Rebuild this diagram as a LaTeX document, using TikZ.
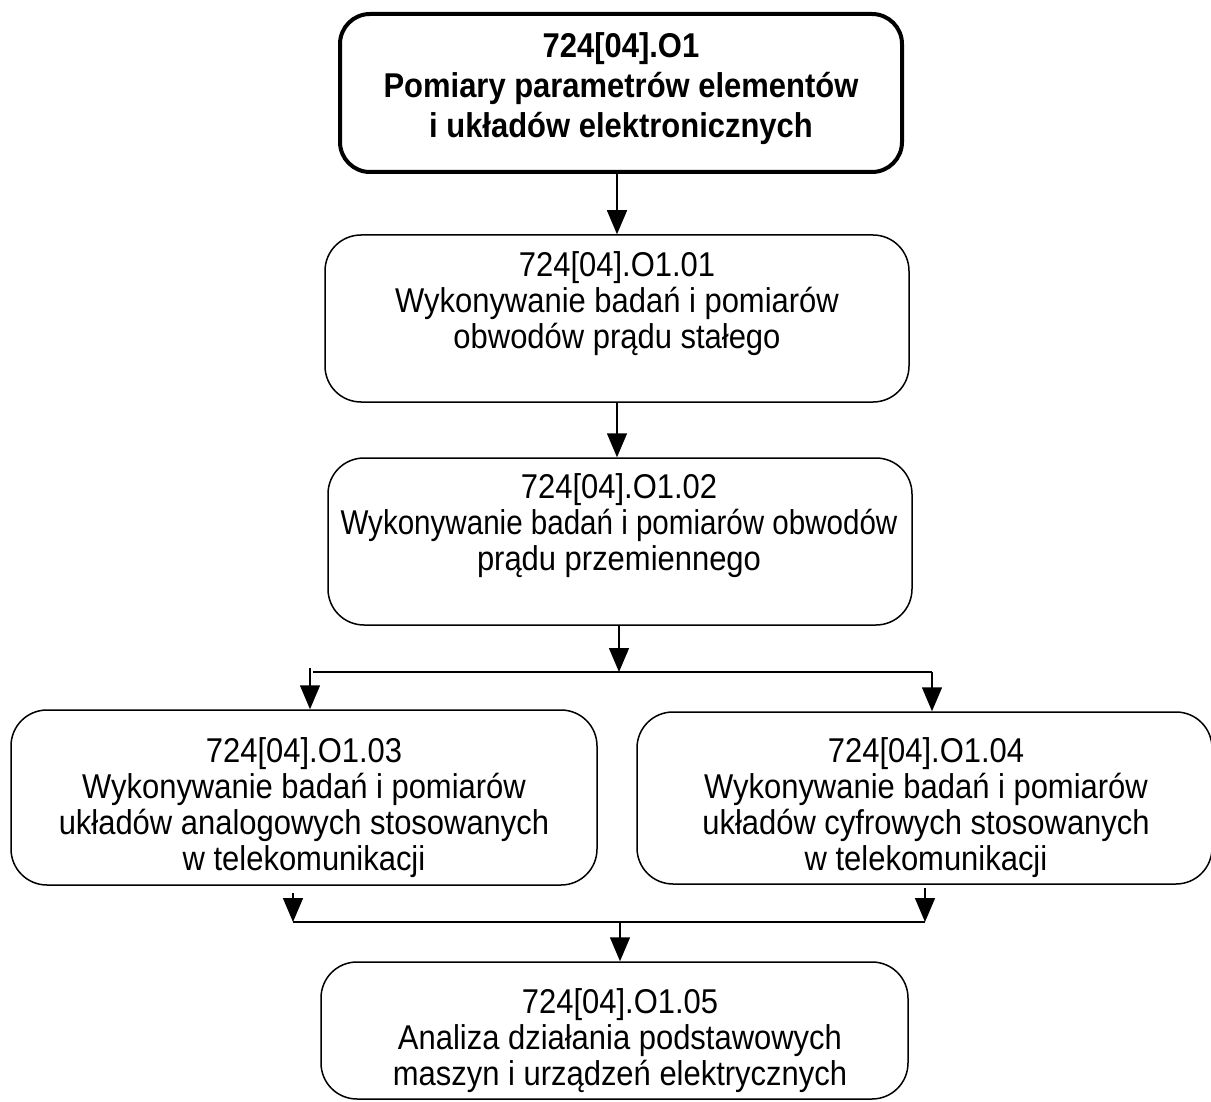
\documentclass[tikz,border=0pt]{standalone}
\usepackage{graphicx}
\usepackage{fontspec}
\setmainfont{Liberation Sans}[FakeStretch=0.9]
\usetikzlibrary{arrows.meta}
\begin{document}
\begin{tikzpicture}[x=1pt,y=-1pt,
  box/.style={draw, rounded corners=36pt, line width=1.5pt, inner sep=0pt},
  topbox/.style={draw, rounded corners=30pt, line width=4pt, inner sep=0pt},
  txt/.style={align=center, inner sep=0pt, font=\fontsize{34.4}{36}\selectfont},
  toptxt/.style={align=center, inner sep=0pt, font=\fontsize{34.4}{40}\selectfont\bfseries},
  arr/.style={line width=1.5pt, -{Triangle[width=20pt,length=24pt]}},
  ln/.style={line width=1.5pt}]
\useasboundingbox (0,0) rectangle (1211,1102);
% boxes
\node[topbox, minimum width=562pt, minimum height=158pt] (b1) at (621,93) {};
\node[box, minimum width=584pt, minimum height=167pt] (b2) at (617,318.5) {};
\node[box, minimum width=584pt, minimum height=167pt] (b3) at (620,541.5) {};
\node[box, minimum width=586pt, minimum height=175pt] (b4) at (304,797.5) {};
\node[box, minimum width=575pt, minimum height=172pt] (b5) at (924.5,798) {};
\node[box, minimum width=587pt, minimum height=137pt] (b6) at (614.5,1030.5) {};
% texts
\node[toptxt] (t1) at (621,89) {724[04].O1\\Pomiary parametrów elementów\\i układów elektronicznych};
\node[txt] (t2) at (617,304) {724[04].O1.01\\Wykonywanie badań i pomiarów\\obwodów prądu stałego};
\node[txt] (t3) at (619,526) {724[04].O1.02\\\scalebox{0.955}[1]{Wykonywanie badań i pomiarów obwodów}\\prądu przemiennego};
\node[txt] (t4) at (304,808) {724[04].O1.03\\Wykonywanie badań i pomiarów\\układów analogowych stosowanych\\w telekomunikacji};
\node[txt] (t5) at (926,808) {724[04].O1.04\\Wykonywanie badań i pomiarów\\układów cyfrowych stosowanych\\w telekomunikacji};
\node[txt] (t6) at (620,1041) {724[04].O1.05\\Analiza działania podstawowych\\maszyn i urządzeń elektrycznych};
% junction coordinates
\coordinate (j1) at (619,672);
\coordinate (h1l) at (313,672);
\coordinate (h1r) at (932,672);
\coordinate (l1) at (310,668);
\coordinate (l2) at (293,893);
\coordinate (r2) at (925,888);
\coordinate (h2l) at (293,922);
\coordinate (h2r) at (925,922);
\coordinate (j2) at (620,922);
% connectors
\draw[arr] (b1.south -| b2.north) -- (b2.north);
\draw[arr] (b2.south) -- (b2.south |- b3.north);
\draw[arr] (b3.south -| j1) -- (j1);
\draw[ln] (h1l) -- (h1r);
\draw[arr] (h1r) -- (h1r |- b5.north);
\draw[arr] (l1) -- (l1 |- b4.north);
\draw[arr] (l2) -- (h2l);
\draw[arr] (r2) -- (h2r);
\draw[ln] (h2l) -- (h2r);
\draw[arr] (j2) -- (j2 |- b6.north);
\end{tikzpicture}
\end{document}
